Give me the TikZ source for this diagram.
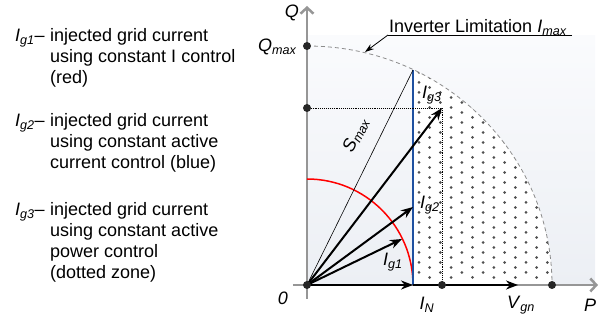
\documentclass[tikz,border=0pt]{standalone}
\usepackage{fontspec}
\setmainfont{Liberation Sans}
\usetikzlibrary{arrows.meta}

\definecolor{axisgray}{RGB}{150,150,150}
\definecolor{limgray}{RGB}{140,140,140}
\definecolor{bgtop}{RGB}{250,251,253}
\definecolor{bgbot}{RGB}{236,239,244}
\definecolor{curblue}{RGB}{30,80,160}
\definecolor{dotgray}{RGB}{80,80,80}

\newcommand{\vlab}[2]{\textit{#1}\textsubscript{\textit{#2}}}

\tikzset{
  lbl/.style={font=\fontsize{18}{21}\selectfont, inner sep=0pt},
  axis/.style={axisgray, line width=2.5pt, -{Straight Barb[length=6pt,width=13pt]}},
  vec/.style={line width=2pt, -{Stealth[length=12pt,width=9pt]}},
  mark dot/.style={fill=black!85},
}

\begin{document}
\begin{tikzpicture}[x=1pt,y=1pt]
    \useasboundingbox (-307,-35) rectangle (306,285);

    \coordinate (O) at (0,0);
    \coordinate (Qb) at (0,-14);
    \coordinate (Qt) at (0,279);
    \coordinate (Pl) at (-14,0);
    \coordinate (Pr) at (291,0);
    \coordinate (Qm) at (0,239);
    \coordinate (Pm) at (245,0);
    \coordinate (Q3) at (0,177);
    \coordinate (P3) at (135,0);
    \coordinate (IN) at (106,0);
    \coordinate (Vg) at (211,0);
    \coordinate (S) at (106,215);
    \coordinate (R) at (0,106);
    \coordinate (g1) at (95,46);
    \coordinate (g2) at (106,78);
    \coordinate (g3) at (135,177);
    \coordinate (limL) at (81,250);
    \coordinate (limR) at (265,250);
    \coordinate (limtip) at (58,233);

    \shade[top color=bgtop, bottom color=bgbot] (0,0) rectangle (288,249);

    \begin{scope}
        \clip (106,0) rectangle (250,230);
        \clip (0,0) ellipse [x radius=245, y radius=239];
        \fill[white] (106,0) rectangle (250,230);
        \foreach \k in {0,...,13}
            \foreach \j in {0,...,22}
                \fill[dotgray] ({112+10.7*\k},{12.5-5*mod(\k,2)+10*\j}) circle (1.5);
    \end{scope}

    \draw[axis] (Qb) -- (Qt);
    \draw[axis] (Pl) -- (Pr);

    \draw[limgray, dash pattern=on 4pt off 3pt, line width=0.8pt] (Qm) arc[start angle=90, end angle=0, x radius=245, y radius=239];
    \draw[red, line width=1.5pt] (R) arc[start angle=90, end angle=0, radius=106];
    \draw[curblue, line width=1.5pt] (IN) -- (S);
    \draw[densely dotted, line width=0.9pt] (Q3) -- (g3) -- (P3);
    \draw[line width=0.6pt] (O) -- (S);

    \draw[vec] (O) -- (IN);
    \draw[vec] (IN) -- (Vg);
    \draw[vec] (O) -- (g1);
    \draw[vec] (O) -- (g2);
    \draw[vec] (O) -- (g3);

    \fill[mark dot] (O) circle (4);
    \fill[mark dot] (Qm) circle (4);
    \fill[mark dot] (Q3) circle (4);
    \fill[mark dot] (P3) circle (4);
    \fill[mark dot] (Pm) circle (4);

    \draw[line width=0.8pt] (limR) -- (limL);
    \draw[line width=0.8pt, -{Stealth[length=9pt,width=6pt]}] (limL) -- (limtip);
    \node[lbl, anchor=base west] (lim) at (82,252.5) {Inverter Limitation \vlab{I}{max}};

    \node[lbl] (Qlab) at (-15,272) {\textit{Q}};
    \node[lbl, anchor=east] (Qmlab) at (-10,238) {\vlab{Q}{max}};
    \node[lbl] (Olab) at (-24,-13) {\textit{0}};
    \node[lbl] (INlab) at (120,-20) {\vlab{I}{N}};
    \node[lbl] (Vglab) at (214,-20) {\vlab{V}{gn}};
    \node[lbl] (Plab) at (283,-20) {\textit{P}};
    \node[lbl] (g3lab) at (125,190) {\vlab{I}{g3}};
    \node[lbl] (g2lab) at (123,80) {\vlab{I}{g2}};
    \node[lbl] (g1lab) at (86,23) {\vlab{I}{g1}};
    \node[lbl, rotate=63.8] (Slab) at (49,150) {\vlab{S}{max}};

    \node[lbl, anchor=base west] (d1) at (-292,243) {\vlab{I}{g1}--};
    \node[lbl, anchor=base west, align=left] (t1) at (-257,201) {injected grid current\\using constant I control\\(red)};
    \node[lbl, anchor=base west] (d2) at (-292,158) {\vlab{I}{g2}--};
    \node[lbl, anchor=base west, align=left] (t2) at (-257,116) {injected grid current\\using constant active\\current control (blue)};
    \node[lbl, anchor=base west] (d3) at (-292,69) {\vlab{I}{g3}--};
    \node[lbl, anchor=base west, align=left] (t3) at (-257,6) {injected grid current\\using constant active\\power control\\(dotted zone)};
\end{tikzpicture}
\end{document}
